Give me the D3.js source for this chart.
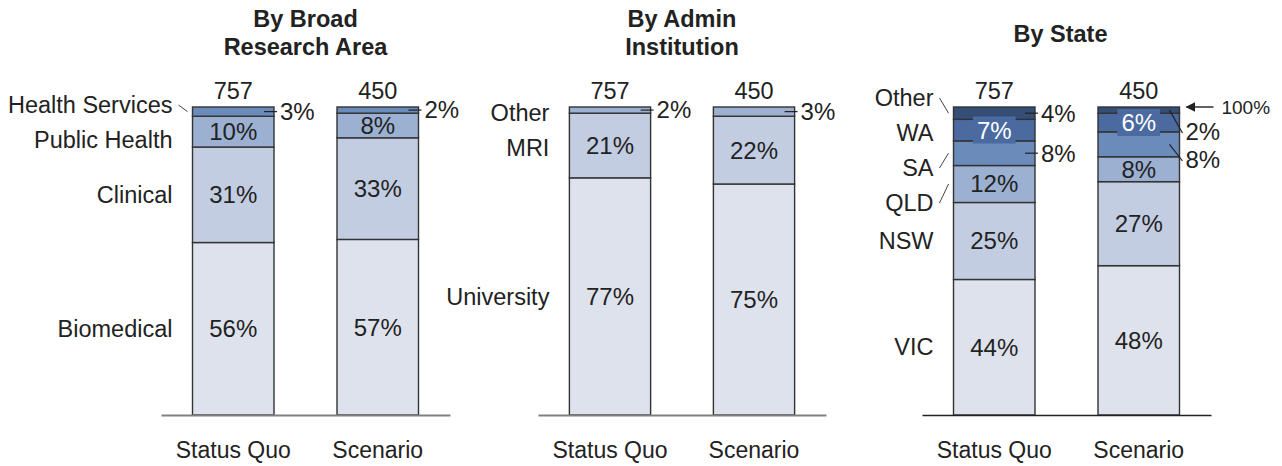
<!DOCTYPE html>
<html>
<head>
<meta charset="utf-8">
<script src="https://cdn.jsdelivr.net/npm/d3@7"></script>
<style>
  html, body { margin: 0; padding: 0; background: #ffffff; }
  svg { display: block; font-family: "Liberation Sans", Arial, Helvetica, sans-serif; }
</style>
</head>
<body>
<svg id="chart" width="1282" height="466"></svg>
<script>
// ---- data ----
const bars = ["Status Quo", "Scenario"];
const totals = [757, 450];

const areaSeries = ["Biomedical", "Clinical", "Public Health", "Health Services"];
const areaStatusQuo = [56, 31, 10, 3];
const areaScenario = [57, 33, 8, 2];

const instSeries = ["University", "MRI", "Other"];
const instStatusQuo = [77, 21, 2];
const instScenario = [75, 22, 3];

const stateSeries = ["VIC", "NSW", "QLD", "SA", "WA", "Other"];
const stateStatusQuo = [44, 25, 12, 8, 7, 4];
const stateScenario = [48, 27, 8, 8, 6, 2];

// ---- palette ----
const blues = ["#dee2ed", "#c3cde1", "#9cb0d1", "#6b8bba", "#4a6aa0", "#354e75"];
const ink = "#222222";

// ---- panel layout ----
const panels = [
  { title: ["By Broad", "Research Area"], x0: 161, x1: 450, titleDx: 0,
    series: areaSeries, values: [areaStatusQuo, areaScenario],
    modes: ["in", "in", "in", "out"], firstLabelY: 105, leaders: ["Health Services"],
    axisColor: "#808080", axisWidth: 2.2 },
  { title: ["By Admin", "Institution"], x0: 538, x1: 826, titleDx: 0,
    series: instSeries, values: [instStatusQuo, instScenario],
    modes: ["in", "in", "out"], firstLabelY: 113, leaders: [],
    axisColor: "#808080", axisWidth: 2.2 },
  { title: ["By State"], x0: 922, x1: 1211, titleDx: -6,
    series: stateSeries, values: [stateStatusQuo, stateScenario],
    modes: ["in", "in", "in", "out", "box", "out"], firstLabelY: 98, leaders: ["Other", "SA", "QLD"],
    axisColor: "#222222", axisWidth: 1.5,
    topNote: { bar: "Scenario", text: "100%" } }
];

const yTop = 107, yBottom = 415;
const y = d3.scaleLinear().domain([0, 1]).range([yBottom, yTop]);

const svg = d3.select("#chart");

// arrowhead for the top note
svg.append("defs").append("marker")
  .attr("id", "arrowhead")
  .attr("viewBox", "0 0 10 10")
  .attr("refX", 9).attr("refY", 5)
  .attr("markerWidth", 10).attr("markerHeight", 10)
  .attr("markerUnits", "userSpaceOnUse")
  .attr("orient", "auto")
  .append("path").attr("d", "M0,0 L10,5 L0,10 Z").attr("fill", ink);

panels.forEach(p => {
  const g = svg.append("g");
  const colors = blues.slice(0, p.series.length);
  const color = d3.scaleOrdinal().domain(p.series).range(colors);

  const rows = bars.map((b, i) => {
    const r = { bar: b, total: totals[i] };
    p.series.forEach((s, j) => { r[s] = p.values[i][j]; });
    return r;
  });

  const stack = d3.stack().keys(p.series).offset(d3.stackOffsetExpand);
  const layers = stack(rows);

  const x = d3.scaleBand().domain(bars).range([p.x0, p.x1])
    .paddingInner(0.436).paddingOuter(0.218);
  const bw = x.bandwidth();

  // title
  const tCenter = (p.x0 + p.x1) / 2 + p.titleDx;
  const title = g.append("text")
    .attr("x", tCenter)
    .attr("text-anchor", "middle")
    .attr("font-weight", "bold")
    .attr("font-size", 23.5)
    .attr("fill", ink);
  const firstBase = p.title.length === 2 ? 27 : 41.5;
  p.title.forEach((line, i) => {
    title.append("tspan").attr("x", tCenter).attr("y", firstBase + i * 28).text(line);
  });

  // stacked segments
  layers.forEach(layer => {
    g.selectAll(null).data(layer).enter().append("rect")
      .attr("x", d => x(d.data.bar))
      .attr("y", d => y(d[1]))
      .attr("width", bw)
      .attr("height", d => y(d[0]) - y(d[1]))
      .attr("fill", color(layer.key))
      .attr("stroke", "#333333")
      .attr("stroke-width", 1.4);
  });

  // totals above bars
  g.selectAll(null).data(rows).enter().append("text")
    .attr("x", d => x(d.bar) + bw / 2)
    .attr("y", yTop - 8)
    .attr("text-anchor", "middle")
    .attr("font-size", 23.5)
    .attr("fill", ink)
    .text(d => d.total);

  // value labels
  rows.forEach((row, bi) => {
    const bx = x(row.bar);
    const right = bx + bw;
    let prevOut = null;
    if (p.topNote && p.topNote.bar === row.bar) prevOut = yTop - 3;
    // walk top-down so outside labels can be spread apart
    for (let k = layers.length - 1; k >= 0; k--) {
      const seg = layers[k][bi];
      const key = layers[k].key;
      const mode = p.modes[k];
      const cy = (y(seg[0]) + y(seg[1])) / 2;
      const label = row[key] + "%";
      if (mode === "out") {
        const ly = prevOut === null ? cy : Math.max(cy, prevOut + 28);
        prevOut = ly;
        g.append("line")
          .attr("x1", right - 10).attr("y1", cy)
          .attr("x2", right + 3).attr("y2", ly === cy ? cy : ly + 1)
          .attr("stroke", ink).attr("stroke-width", 1.2);
        g.append("text")
          .attr("x", right + 6).attr("y", ly).attr("dy", "0.35em")
          .attr("font-size", 24).attr("fill", ink)
          .text(label);
      } else if (mode === "box") {
        const t = g.append("text")
          .attr("x", bx + bw / 2).attr("y", cy).attr("dy", "0.35em")
          .attr("text-anchor", "middle")
          .attr("font-size", 24).attr("fill", "#ffffff")
          .text(label);
        const bb = t.node().getBBox();
        g.insert("rect", () => t.node())
          .attr("x", bb.x - 4).attr("y", bb.y)
          .attr("width", bb.width + 8).attr("height", bb.height)
          .attr("fill", color(key));
      } else {
        g.append("text")
          .attr("x", bx + bw / 2).attr("y", cy).attr("dy", "0.35em")
          .attr("text-anchor", "middle")
          .attr("font-size", 24).attr("fill", ink)
          .text(label);
      }
    }

    // 100% marker
    if (p.topNote && p.topNote.bar === row.bar) {
      g.append("line")
        .attr("x1", right + 34).attr("y1", yTop)
        .attr("x2", right + 7).attr("y2", yTop)
        .attr("stroke", ink).attr("stroke-width", 1.4)
        .attr("marker-end", "url(#arrowhead)");
      g.append("text")
        .attr("x", right + 42).attr("y", yTop).attr("dy", "0.35em")
        .attr("font-size", 19).attr("fill", ink)
        .text(p.topNote.text);
    }
  });

  // series names at the left of the first bar
  const first = bars[0];
  const leftX = x(first);
  let prev = null;
  for (let k = layers.length - 1; k >= 0; k--) {
    const seg = layers[k][0];
    const key = layers[k].key;
    const cy = (y(seg[0]) + y(seg[1])) / 2;
    const ly = prev === null ? p.firstLabelY : Math.max(cy, prev + 35);
    prev = ly;
    g.append("text")
      .attr("x", leftX - 20).attr("y", ly).attr("dy", "0.35em")
      .attr("text-anchor", "end")
      .attr("font-size", 23.5).attr("fill", ink)
      .text(key);
    if (p.leaders.includes(key)) {
      g.append("line")
        .attr("x1", leftX - 14).attr("y1", ly)
        .attr("x2", leftX - 5).attr("y2", cy)
        .attr("stroke", "#444444").attr("stroke-width", 1);
    }
  }

  // category axis along the baseline
  const axis = g.append("g")
    .attr("transform", `translate(0,${yBottom})`)
    .call(d3.axisBottom(x).tickSize(0).tickSizeOuter(0).tickPadding(27));
  axis.select(".domain").attr("stroke", p.axisColor).attr("stroke-width", p.axisWidth);
  axis.selectAll("text")
    .attr("font-size", 23)
    .attr("font-family", "\"Liberation Sans\", Arial, Helvetica, sans-serif")
    .attr("fill", ink);
});
</script>
</body>
</html>
